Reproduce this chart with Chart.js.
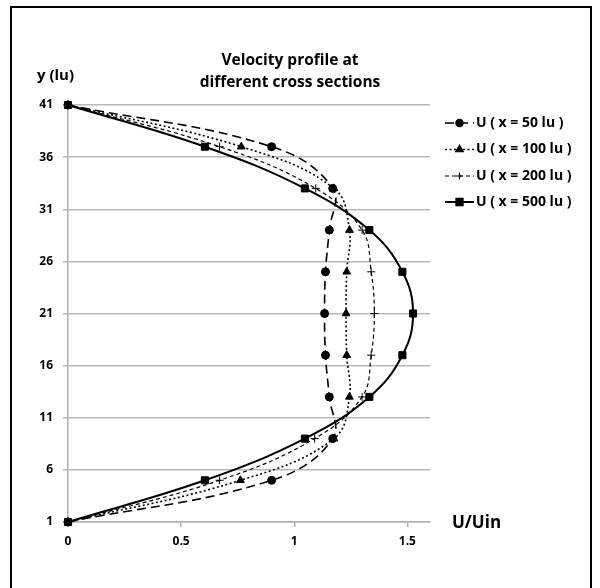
<!DOCTYPE html>
<html><head><meta charset="utf-8">
<script src="https://cdn.jsdelivr.net/npm/chart.js@4.4.0/dist/chart.umd.min.js"></script>
<style>
html,body{margin:0;padding:0;background:#fff;}
#wrap{position:relative;width:600px;height:588px;overflow:hidden;}
#frame{position:absolute;left:10px;top:6px;width:582px;height:620px;border:2.5px solid #000;box-sizing:border-box;}
canvas{position:absolute;left:0;top:0;}
</style></head><body>
<div id="wrap"><div id="frame"></div><canvas id="c" width="600" height="588"></canvas></div>
<script>
// y positions (lu) of the sampled points
const yPositions = [1, 5, 9, 13, 17, 21, 25, 29, 33, 37, 41];
// U/Uin at each y for different cross sections
const u50  = [0, 0.90, 1.17, 1.155, 1.138, 1.134, 1.138, 1.155, 1.17, 0.90, 0];
const u100 = [0, 0.762, 1.175, 1.244, 1.232, 1.229, 1.232, 1.244, 1.175, 0.766, 0];
const u200 = [0, 0.67, 1.09, 1.30, 1.34, 1.354, 1.34, 1.30, 1.095, 0.67, 0];
const u500 = [0, 0.605, 1.047, 1.332, 1.478, 1.525, 1.478, 1.332, 1.047, 0.605, 0];
const seriesNames = ['U ( x = 50 lu )', 'U ( x = 100 lu )', 'U ( x = 200 lu )', 'U ( x = 500 lu )'];
const xTicks = [0, 0.5, 1, 1.5];
const yTicks = [1, 6, 11, 16, 21, 26, 31, 36, 41];

const toPts = arr => arr.map((v, i) => ({x: v, y: yPositions[i]}));
const FONT = "'Open Sans', 'Liberation Sans', sans-serif";

const datasets = [
  {label: seriesNames[0], data: toPts(u50), borderColor:'#000', backgroundColor:'#000', borderWidth:1.6, borderDash:[9,5], pointStyle:'circle', pointRadius:4, pointBorderWidth:1},
  {label: seriesNames[1], data: toPts(u100), borderColor:'#000', backgroundColor:'#000', borderWidth:1.6, borderDash:[2,2.5], pointStyle:'triangle', pointRadius:4.5, pointBorderWidth:1},
  {label: seriesNames[2], data: toPts(u200), borderColor:'#000', backgroundColor:'#000', borderWidth:1.2, borderDash:[4,3], pointStyle:'cross', pointRadius:4, pointBorderWidth:1},
  {label: seriesNames[3], data: toPts(u500), borderColor:'#000', backgroundColor:'#000', borderWidth:2, borderDash:[], pointStyle:'rect', pointRadius:5, pointBorderWidth:1}
];
datasets.forEach(d => { d.showLine = true; d.tension = 0.4; d.fill = false; d.clip = false; });

const decor = {
  id: 'decor',
  afterDraw(chart) {
    const ctx = chart.ctx;
    ctx.save();
    ctx.fillStyle = '#000';
    ctx.textBaseline = 'middle';
    ctx.textAlign = 'center';
    ctx.font = "bold 15.5px " + FONT;
    ctx.fillText('Velocity profile at', 290, 61);
    ctx.fillText('different cross sections', 290, 83);
    ctx.textAlign = 'left';
    ctx.font = "bold 15px " + FONT;
    ctx.fillText('y (lu)', 37, 76);
    ctx.font = "bold 17px " + FONT;
    ctx.fillText('U/Uin', 452, 523);
    // legend
    const legY = [123, 149.5, 176, 202];
    chart.data.datasets.forEach((ds, i) => {
      const y = legY[i];
      ctx.save();
      ctx.strokeStyle = ds.borderColor;
      ctx.lineWidth = ds.borderWidth;
      ctx.setLineDash(ds.borderDash || []);
      ctx.beginPath();
      ctx.moveTo(445, y); ctx.lineTo(474, y);
      ctx.stroke();
      ctx.setLineDash([]);
      ctx.fillStyle = '#000';
      Chart.helpers.drawPoint(ctx, {pointStyle: ds.pointStyle, radius: ds.pointRadius - 0.5, rotation: 0, borderWidth: ds.pointBorderWidth}, 459.5, y);
      ctx.restore();
      ctx.font = "bold 14px " + FONT;
      ctx.fillStyle = '#000';
      ctx.textAlign = 'left';
      ctx.textBaseline = 'middle';
      ctx.fillText(ds.label, 476, y);
    });
    ctx.restore();
  }
};

new Chart(document.getElementById('c'), {
  type: 'scatter',
  data: {datasets},
  options: {
    responsive: false,
    animation: false,
    events: [],
    layout: {padding: {left: 0, right: 170, top: 105, bottom: 0}},
    plugins: {legend: {display: false}, title: {display: false}, tooltip: {enabled: false}},
    scales: {
      x: {
        type: 'linear', min: 0, max: 1.6,
        afterBuildTicks: s => { s.ticks = xTicks.map(v => ({value: v})); },
        afterFit: s => { s.height = 66; },
        grid: {drawOnChartArea: false, drawTicks: true, tickLength: 5, color: '#b0b0b0', lineWidth: 1.5},
        border: {color: '#b0b0b0', width: 1.5},
        ticks: {color: '#000', padding: 7, font: {family: FONT, weight: 'bold', size: 12}, callback: v => String(v)}
      },
      y: {
        type: 'linear', min: 1, max: 41,
        afterBuildTicks: s => { s.ticks = yTicks.map(v => ({value: v})); },
        afterFit: s => { s.width = 68; },
        grid: {drawTicks: true, tickLength: 5, color: '#b8b8b8', lineWidth: 1.5},
        border: {color: '#b0b0b0', width: 1.5},
        ticks: {color: '#000', padding: 10, font: {family: FONT, weight: 'bold', size: 12}}
      }
    }
  },
  plugins: [decor]
});
</script>
</body></html>
